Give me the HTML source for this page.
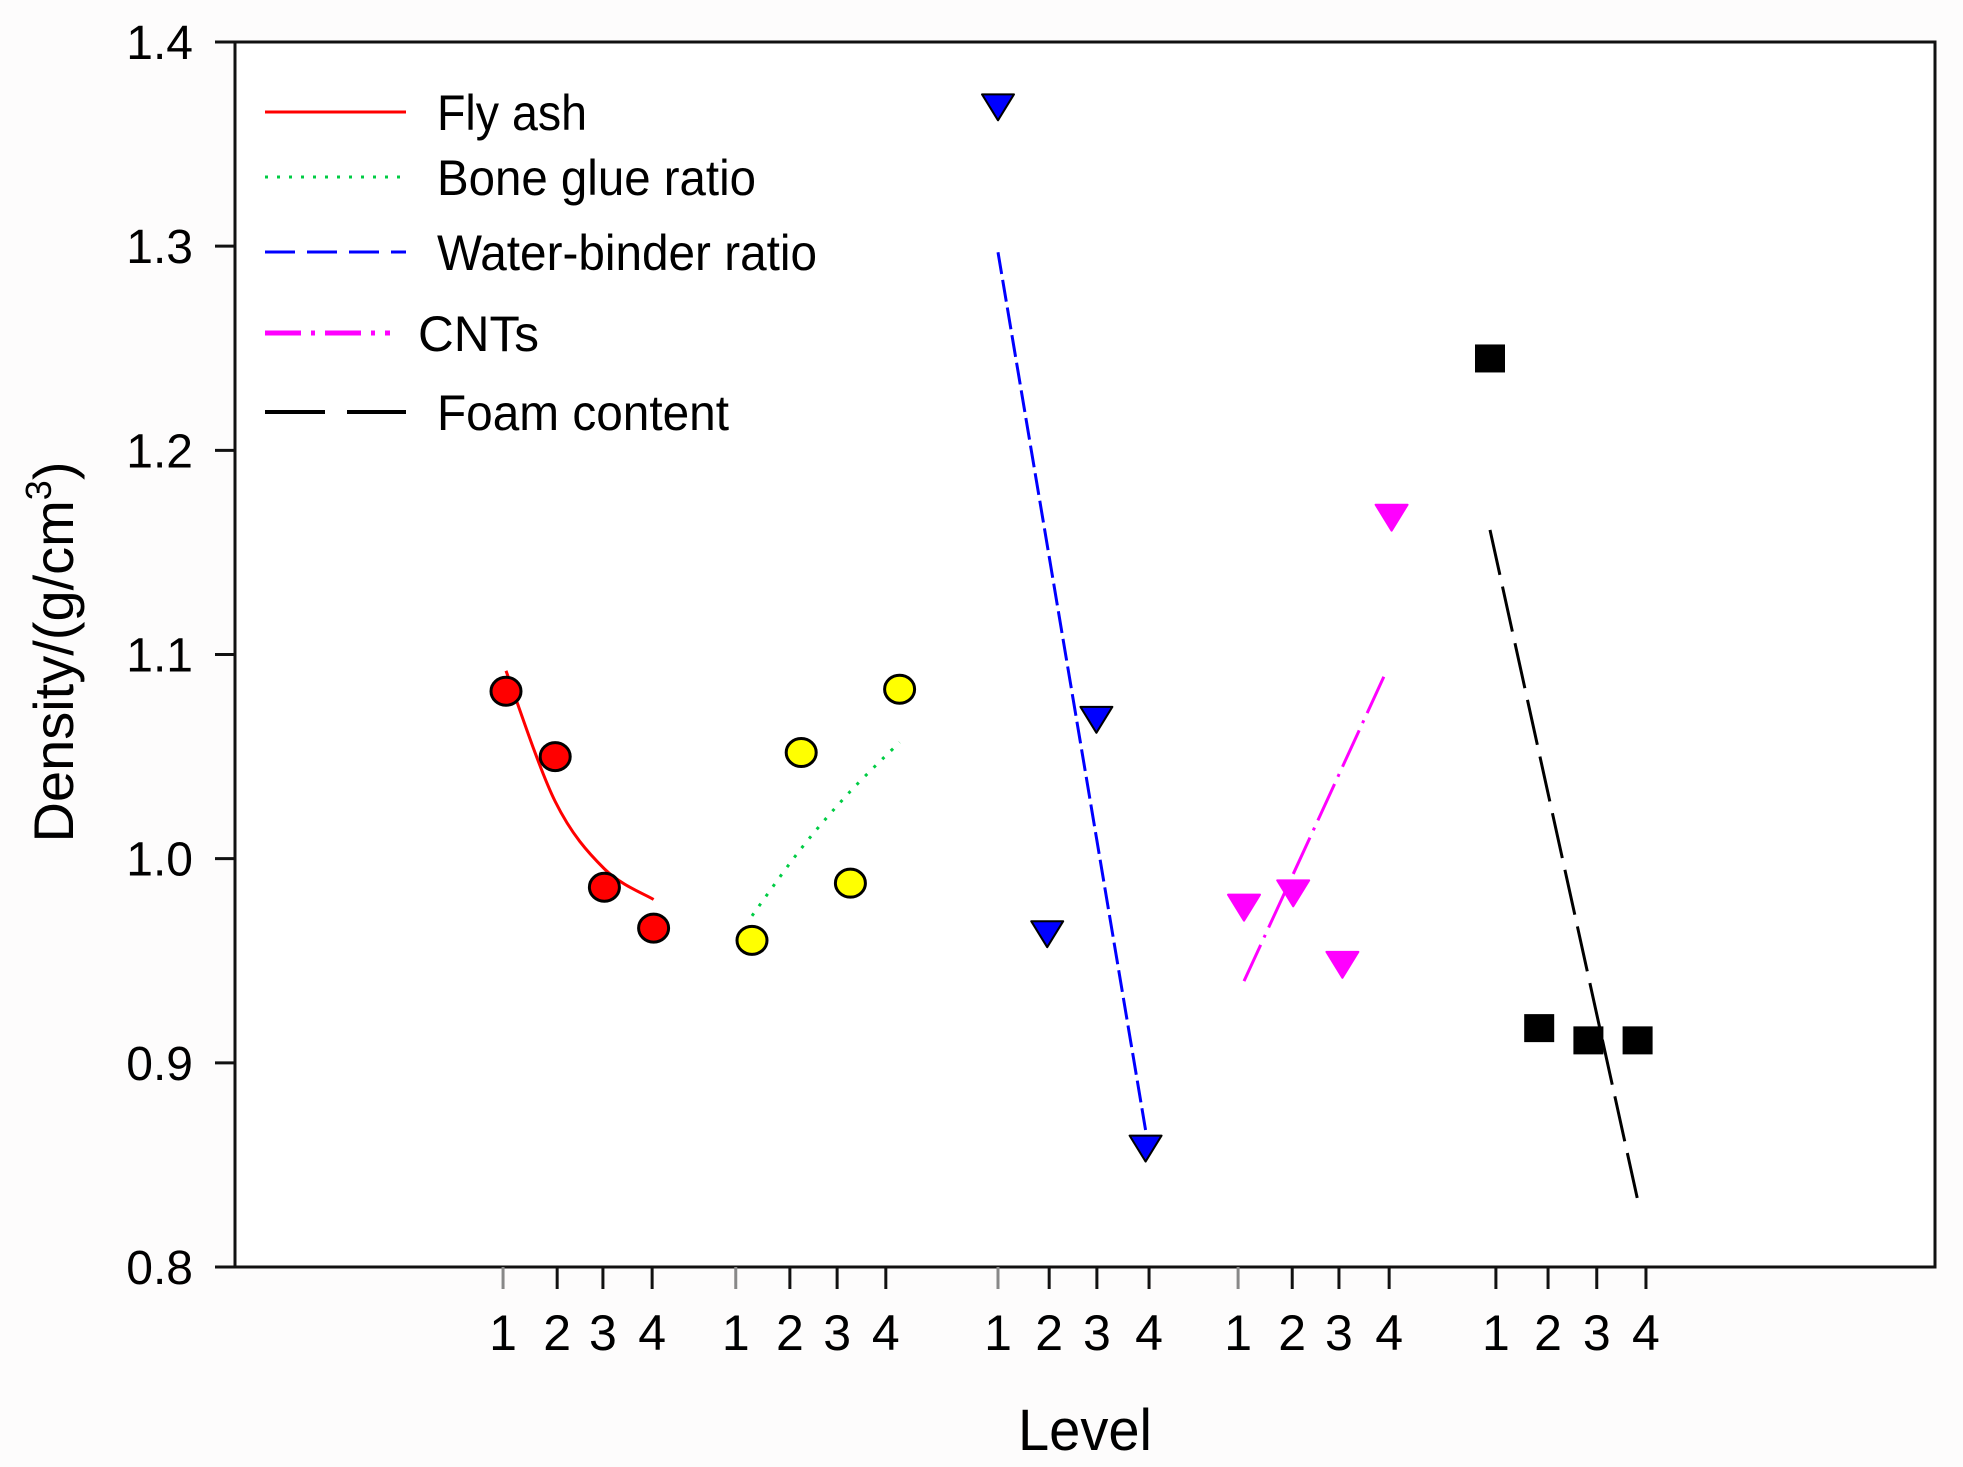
<!DOCTYPE html>
<html><head><meta charset="utf-8"><title>Density vs Level</title>
<style>
html,body{margin:0;padding:0;background:#fdfcfc;}
svg{display:block;font-family:"Liberation Sans",Arial,sans-serif;}
</style></head>
<body>
<svg id="chart" width="1963" height="1467" viewBox="0 0 1963 1467" xmlns="http://www.w3.org/2000/svg">
<rect x="0" y="0" width="1963" height="1467" fill="#fdfcfc"/>
<rect x="235" y="42" width="1700" height="1225" fill="#ffffff"/>
<g id="marks"></g>
<g id="axes"></g>
<g id="legend">
  <line x1="265" y1="112" x2="406" y2="112" stroke="#ff0000" stroke-width="3"/>
  <text x="437" y="130" font-size="50" textLength="150" lengthAdjust="spacingAndGlyphs" fill="#000">Fly ash</text>
  <line x1="265" y1="177" x2="400" y2="177" stroke="#00cc44" stroke-width="3" stroke-dasharray="3 9"/>
  <text x="437" y="195" font-size="50" textLength="319" lengthAdjust="spacingAndGlyphs" fill="#000">Bone glue ratio</text>
  <line x1="265" y1="252" x2="406" y2="252" stroke="#0000ff" stroke-width="3" stroke-dasharray="30 12"/>
  <text x="437" y="270" font-size="50" textLength="380" lengthAdjust="spacingAndGlyphs" fill="#000">Water-binder ratio</text>
  <line x1="265" y1="333" x2="390" y2="333" stroke="#ff00ff" stroke-width="5" stroke-dasharray="36 10 4 10"/>
  <text x="418" y="351" font-size="50" textLength="121" lengthAdjust="spacingAndGlyphs" fill="#000">CNTs</text>
  <line x1="265" y1="412" x2="406" y2="412" stroke="#000" stroke-width="4" stroke-dasharray="60 22"/>
  <text x="437" y="430" font-size="50" textLength="292" lengthAdjust="spacingAndGlyphs" fill="#000">Foam content</text>
</g>
</svg>
<script>
// ---- data ----
const groupNames = ["Fly ash","Bone glue ratio","Water-binder ratio","CNTs","Foam content"];
const levels = [1,2,3,4];
const flyAsh = [1.082, 1.050, 0.986, 0.966];
const boneGlue = [0.960, 1.052, 0.988, 1.083];
const waterBinder = [1.368, 0.963, 1.068, 0.858];
const cnts = [0.976, 0.983, 0.948, 1.167];
const foam = [1.245, 0.917, 0.911, 0.911];
const fitFlyAsh = [1.092, 1.028, 0.995, 0.980];
const fitBoneGlue = [0.972, 1.005, 1.033, 1.057];
const fitWater = [1.297, 0.867];
const fitCnts = [0.940, 1.091];
const fitFoam = [1.161, 0.833];
const yTicks = [0.8, 0.9, 1.0, 1.1, 1.2, 1.3, 1.4];
const yTickLabels = ["0.8","0.9","1.0","1.1","1.2","1.3","1.4"];
const xTickK = [-0.06,1.04,1.97,2.97, 4.67,5.77,6.73,7.72, 10.0,11.04,12.01,13.07, 14.88,15.98,16.93,17.95, 20.12,21.18,22.17,23.17];

// ---- scales ----
const X0=235, X1=1935, Y0=42, Y1=1267;
function y(v){ return Y1 - (v-0.8)/(1.4-0.8)*(Y1-Y0); }
function x(k){ return 506 + 49.2*k; }
function gk(g,i){ return g*5 + i; }

const NS="http://www.w3.org/2000/svg";
const marks=document.getElementById('marks');
const axes=document.getElementById('axes');
function mk(tag, attrs, parent){
  const e=document.createElementNS(NS,tag);
  for(const a in attrs) e.setAttribute(a, attrs[a]);
  parent.appendChild(e); return e;
}

function catmull(pts){
  let d="M"+pts[0][0]+","+pts[0][1];
  for(let i=0;i<pts.length-1;i++){
    const p0=pts[Math.max(0,i-1)], p1=pts[i], p2=pts[i+1], p3=pts[Math.min(pts.length-1,i+2)];
    const c1=[p1[0]+(p2[0]-p0[0])/6, p1[1]+(p2[1]-p0[1])/6];
    const c2=[p2[0]-(p3[0]-p1[0])/6, p2[1]-(p3[1]-p1[1])/6];
    d+=" C"+c1[0]+","+c1[1]+" "+c2[0]+","+c2[1]+" "+p2[0]+","+p2[1];
  }
  return d;
}
let p;
p=mk('path',{d:catmull(fitFlyAsh.map((v,i)=>[x(gk(0,i)),y(v)])),fill:'none',stroke:'#ff0000','stroke-width':3},marks);


p=mk('path',{d:catmull(fitBoneGlue.map((v,i)=>[x(gk(1,i)),y(v)])),fill:'none',stroke:'#00cc44','stroke-width':3,'stroke-dasharray':'3 9'},marks);


p=mk('line',{x1:x(gk(2,0)),y1:y(fitWater[0]),x2:x(gk(2,3)),y2:y(fitWater[1]),stroke:'#0000ff','stroke-width':3,'stroke-dasharray':'22 6'},marks);


p=mk('line',{x1:x(gk(3,0)),y1:y(fitCnts[0]),x2:x(gk(3,3))-6,y2:y(fitCnts[1]),stroke:'#ff00ff','stroke-width':3,'stroke-dasharray':'40 8 3 8'},marks);


p=mk('line',{x1:x(gk(4,0)),y1:y(fitFoam[0]),x2:x(gk(4,3)),y2:y(fitFoam[1]),stroke:'#000','stroke-width':3,'stroke-dasharray':'46 12'},marks);



flyAsh.forEach((v,i)=>{
  const c=mk('ellipse',{cx:x(gk(0,i)),cy:y(v),rx:15,ry:14,fill:'#ff0000',stroke:'#000','stroke-width':3},marks);
  
  
});
boneGlue.forEach((v,i)=>{
  const c=mk('ellipse',{cx:x(gk(1,i)),cy:y(v),rx:15,ry:14,fill:'#ffff00',stroke:'#000','stroke-width':3},marks);
  
  
});
function tri(cx,cy,fill,stroke){
  const w=16,top=cy-13,bot=cy+13;
  return mk('polygon',{points:(cx-w)+","+top+" "+(cx+w)+","+top+" "+cx+","+bot,fill:fill,stroke:stroke,'stroke-width':2,'stroke-linejoin':'round'},marks);
}
waterBinder.forEach((v,i)=>{
  const t=tri(x(gk(2,i)),y(v),'#0000ff','#000');
  
  
});
cnts.forEach((v,i)=>{
  const t=tri(x(gk(3,i)),y(v),'#ff00ff','#ff00ff');
  
  
});
foam.forEach((v,i)=>{
  const r=mk('rect',{x:x(gk(4,i))-15,y:y(v)-14,width:30,height:28,fill:'#000'},marks);
  
  
});

let a;
a=mk('rect',{x:X0,y:Y0,width:X1-X0,height:Y1-Y0,fill:'none',stroke:'#111','stroke-width':3},axes);


yTicks.forEach((v,i)=>{
  const t=mk('line',{x1:215,y1:y(v),x2:X0,y2:y(v),stroke:'#111','stroke-width':3},axes);
  
  
  const l=mk('text',{x:193,y:y(v)+17,'text-anchor':'end','font-size':48,fill:'#000'},axes);
  l.textContent=yTickLabels[i];
  
  
});
xTickK.forEach((k,i)=>{
  const lev=levels[i%4];
  const t=mk('line',{x1:x(k),y1:Y1,x2:x(k),y2:1289,stroke:(i%4===0&&i<13?'#888':'#111'),'stroke-width':3},axes);
  
  
  const l=mk('text',{x:x(k),y:1350,'text-anchor':'middle','font-size':50,fill:'#000'},axes);
  l.textContent=String(lev);
  
  
});
a=mk('text',{x:1018,y:1450,'font-size':58,textLength:134,lengthAdjust:'spacingAndGlyphs',fill:'#000'},axes);
a.textContent="Level";


a=mk('text',{x:0,y:0,transform:'translate(73,652) rotate(-90)','text-anchor':'middle','font-size':56,fill:'#000'},axes);
a.innerHTML='Density/(g/cm<tspan font-size="36" dy="-22">3</tspan><tspan dy="22">)</tspan>';


</script>
</body></html>
